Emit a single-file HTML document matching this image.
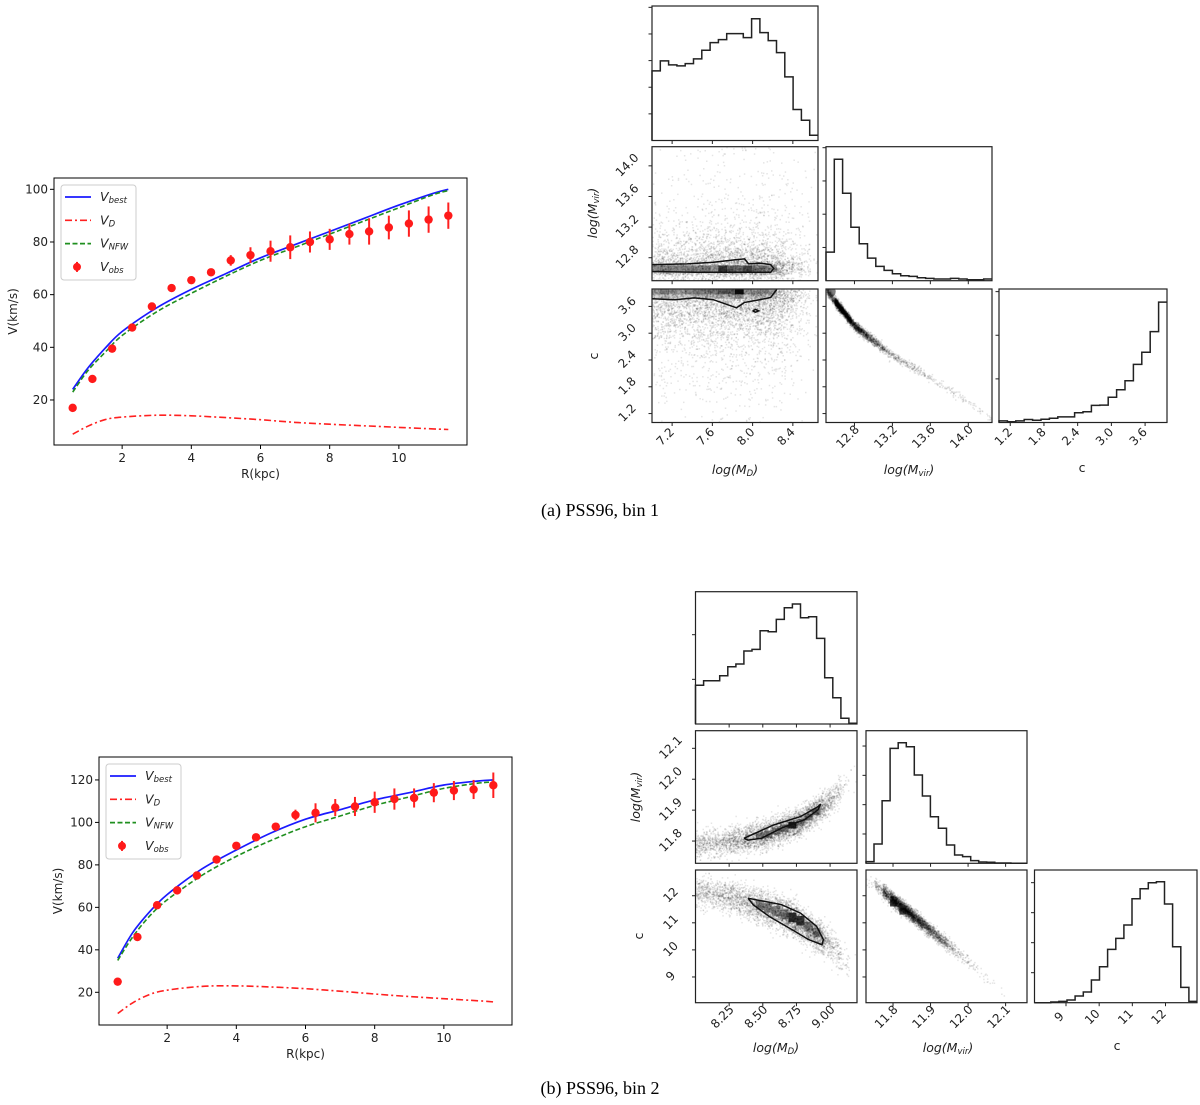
<!DOCTYPE html>
<html><head><meta charset="utf-8">
<style>
html,body{margin:0;padding:0;background:#fff;}
svg{display:block;font-family:"DejaVu Sans","Liberation Sans",sans-serif;}
.tk{font-size:12px;fill:#222;}
.cap{font-family:"Liberation Serif",serif;font-size:18px;fill:#000;}
</style></head>
<body>
<svg id="fig" width="1200" height="1105" viewBox="0 0 1200 1105" xmlns="http://www.w3.org/2000/svg">
<text class="cap" x="600" y="516" text-anchor="middle">(a) PSS96, bin 1</text>
<text class="cap" x="600" y="1094" text-anchor="middle">(b) PSS96, bin 2</text>
</svg>
<script>
// ---------- Rotation curve data (bin 1) ----------
const obsR = [0.57,1.14,1.71,2.29,2.86,3.43,4.0,4.57,5.14,5.71,6.29,6.86,7.43,8.0,8.57,9.14,9.71,10.29,10.86,11.43];
const obs1 = [17,28,39.5,47.5,55.5,62.5,65.5,68.5,73,75,76.5,78,80,81,83,84,85.5,87,88.5,90];
const err1 = [1,1,1,1,1.5,1,1,1,2,3,4,4.5,4,4,4,5,4.5,5,5,5];
const curveR = [0.57,1,1.5,2,3,4,5,6,7,8,9,10,11,11.43];
const best1 = [24,32,39.5,46,55,62,68,74,79,84,89,94,98.5,100];
const nfw1  = [23,31,38,44.5,53.5,60.5,67,73,78,83,88,93,98,99.5];
const disk1 = [7,10,12.5,13.5,14.2,14,13.3,12.5,11.5,10.8,10.2,9.6,9,8.8];
// ---------- Rotation curve data (bin 2) ----------
const obs2 = [25,46,61,68,75,82.5,89,93,98,103.5,104.5,107,107.5,109.5,111,111.5,114,115,115.5,117.5];
const err2 = [1,1,1,1,1,1,1,1,1,2.5,4.5,4,4.5,5,5,4.5,4.5,4.5,4.5,6];
const best2 = [36,48,58,66,78,87,95,101.5,106,110.6,114,117.6,119.5,120];
const nfw2  = [35,46,56,63.5,75,84,91.5,98,103,108,112,116,118.5,119];
const disk2 = [10,15,19,21,22.8,23,22.5,21.7,20.5,19.2,18,17,16,15.5];
const ticks1Y = [20,40,60,80,100];
const ticks2Y = [20,40,60,80,100,120];
const ticksX = [2,4,6,8,10];

// ---------- Corner data (bin 1) ----------
const histMD1   = [209,239,227,224,231,245,271,294,303,321,321,309,366,324,300,264,191,93,61,16];
const histMvir1 = [86,365,263,161,111,68,43,31,21,15,13,9,7,5,5,7,5,3,3,5];
const histC1    = [5,2,5,9,7,10,13,17,17,30,33,52,53,77,100,127,177,214,277,367];
const relMvir1 = [12.5,12.8,13.2,13.6,14.0,14.24];
const relC1    = [3.96,3.17,2.5,2.02,1.47,1.05];
const ticksMD1 = [7.2,7.6,8.0,8.4], ticksMv1 = [12.8,13.2,13.6,14.0], ticksC1 = [1.2,1.8,2.4,3.0,3.6];
const cont1a_x = [7.0,7.35,7.61,7.84,7.92,7.96,8.07,8.18,8.21,8.18,7.8,7.42,7.0];
const cont1a_y = [12.71,12.72,12.74,12.775,12.785,12.72,12.73,12.71,12.66,12.61,12.61,12.61,12.62];
const cont1b_x = [7.0,7.23,7.42,7.61,7.84,7.92,8.07,8.18,8.24];
const cont1b_y = [3.77,3.75,3.79,3.75,3.57,3.69,3.75,3.8,3.98];
const cells1a = [0.5,0.55,0.55,0.55,0.55,0.5,0.55,0.45,0.95,0.7,0.6,0.85,0.55,0.5,0.4];
const cells1b = [0.35,0.5,0.4,0.35,0.4,0.45,0.45,0.5,0.6,0.6,0.95,0.4,0.35,0.4,0.3];
// ---------- Corner data (bin 2) ----------
const histMD2   = [116,130,130,145,172,180,219,224,280,277,314,349,360,319,322,257,139,79,17,2];
const histMvir2 = [5,58,188,345,362,350,265,202,140,105,55,25,20,8,4,3,1,1,0,0];
const histC2    = [0,0,2,4,8,20,32,68,108,160,193,233,312,342,360,363,296,168,46,4];
const relMD2   = [8.0,8.25,8.5,8.75,9.0,9.15,9.2];
const relMvir2 = [11.79,11.80,11.82,11.86,11.93,12.0,12.03];
const relC2MD  = [12.2,12.0,11.6,11.1,10.2,9.3,9.0];
const relMvir2b = [11.74,12.12];
const relC2b    = [12.55,8.2];
const ticksMD2 = [8.25,8.5,8.75,9.0], ticksMv2 = [11.8,11.9,12.0,12.1], ticksC2 = [9,10,11,12];
const cont2a_x = [8.36,8.58,8.78,8.91,8.93,8.91,8.81,8.64,8.49,8.39,8.36];
const cont2a_y = [11.809,11.852,11.879,11.911,11.92,11.901,11.869,11.842,11.809,11.803,11.809];
const cont2b_x = [8.39,8.64,8.78,8.9,8.95,8.94,8.84,8.72,8.55,8.43,8.39];
const cont2b_y = [11.91,11.67,11.36,10.87,10.38,10.19,10.38,10.74,11.23,11.66,11.91];

const NS = "http://www.w3.org/2000/svg";
const svg = document.getElementById('fig');
function mk(tag, attrs, parent){const e=document.createElementNS(NS,tag);for(const k in attrs)e.setAttribute(k,attrs[k]);(parent||svg).appendChild(e);return e;}
function lin(d0,d1,r0,r1){return v=>r0+(v-d0)/(d1-d0)*(r1-r0);}
function interp(xs,ys,x){if(x<=xs[0])return ys[0];for(let i=1;i<xs.length;i++){if(x<=xs[i]){const t=(x-xs[i-1])/(xs[i]-xs[i-1]);return ys[i-1]+t*(ys[i]-ys[i-1]);}}return ys[ys.length-1];}
let seed=12345;function rnd(){seed|=0;seed=seed+0x6D2B79F5|0;let t=Math.imul(seed^seed>>>15,1|seed);t=t+Math.imul(t^t>>>7,61|t)^t;return((t^t>>>14)>>>0)/4294967296;}
function gauss(){let u=rnd()||1e-9,v=rnd();return Math.sqrt(-2*Math.log(u))*Math.cos(2*Math.PI*v);}
function sampleHist(h,lo,hi){const tot=h.reduce((a,b)=>a+b,0);let r=rnd()*tot,i=0;while(i<h.length-1&&r>h[i]){r-=h[i];i++;}const w=(hi-lo)/h.length;return lo+(i+rnd())*w;}
function splinePath(px,py){ // Catmull-Rom through pixel points
  let d='M'+px[0].toFixed(1)+' '+py[0].toFixed(1);
  for(let i=0;i<px.length-1;i++){
    const x0=px[Math.max(i-1,0)],y0=py[Math.max(i-1,0)],x1=px[i],y1=py[i],x2=px[i+1],y2=py[i+1],x3=px[Math.min(i+2,px.length-1)],y3=py[Math.min(i+2,px.length-1)];
    d+=` C${(x1+(x2-x0)/6).toFixed(1)} ${(y1+(y2-y0)/6).toFixed(1)} ${(x2-(x3-x1)/6).toFixed(1)} ${(y2-(y3-y1)/6).toFixed(1)} ${x2.toFixed(1)} ${y2.toFixed(1)}`;
  }
  return d;
}

// ---------- rotation curve chart ----------
function rotChart(name, box, ydom, yticks, obs, err, best, nfw, disk, leg){
  const g=mk('g',{});  
  const X=lin(0.03,11.97,box.l,box.r), Y=lin(ydom[0],ydom[1],box.b,box.t);
  const smooth=(xs,ys)=>splinePath(xs.map(X),ys.map(Y));
  let e;
  e=mk('path',{d:smooth(curveR,disk),stroke:'#ff2020',fill:'none','stroke-width':1.6,'stroke-dasharray':'7 3 2 3'},g);  
  e=mk('path',{d:smooth(curveR,best),stroke:'#1a1aff',fill:'none','stroke-width':1.7},g);  
  e=mk('path',{d:smooth(curveR,nfw),stroke:'#1f8f1f',fill:'none','stroke-width':1.6,'stroke-dasharray':'5 2.5'},g);  
  obsR.forEach((r,i)=>{
    const b=mk('line',{x1:X(r),x2:X(r),y1:Y(obs[i]-err[i]),y2:Y(obs[i]+err[i]),stroke:'#ff2020','stroke-width':2},g);
     
    const c=mk('circle',{cx:X(r),cy:Y(obs[i]),r:4.2,fill:'#ff1a1a'},g);
     
  });
  e=mk('rect',{x:box.l,y:box.t,width:box.r-box.l,height:box.b-box.t,fill:'none',stroke:'#000','stroke-width':1},g);  
  ticksX.forEach(v=>{mk('line',{x1:X(v),x2:X(v),y1:box.b,y2:box.b+4,stroke:'#000'},g);
    const t=mk('text',{x:X(v),y:box.b+17,'text-anchor':'middle',class:'tk'},g);t.textContent=v;});
  yticks.forEach(v=>{mk('line',{x1:box.l-4,x2:box.l,y1:Y(v),y2:Y(v),stroke:'#000'},g);
    const t=mk('text',{x:box.l-6,y:Y(v)+4,'text-anchor':'end',class:'tk'},g);t.textContent=v;});
  let t=mk('text',{x:(box.l+box.r)/2,y:box.b+33,'text-anchor':'middle',class:'tk'},g);t.textContent='R(kpc)';
  t=mk('text',{x:0,y:0,'text-anchor':'middle',class:'tk',transform:`translate(${box.l-37},${(box.t+box.b)/2}) rotate(-90)`},g);t.textContent='V(km/s)';
  const lg=mk('g',{},g);  
  mk('rect',{x:leg.x,y:leg.y,width:75,height:95,rx:3,fill:'#fff',stroke:'#ccc'},lg);
  const rows=[['best','#1a1aff',null],['D','#ff2020','7 3 2 3'],['NFW','#1f8f1f','5 2.5'],['obs','#ff1a1a','pt']];
  rows.forEach((rw,i)=>{const yy=leg.y+12+i*23.3;
    const en=mk('g',{},lg);  
    if(rw[2]==='pt'){mk('line',{x1:leg.x+16,x2:leg.x+16,y1:yy-5,y2:yy+5,stroke:rw[1],'stroke-width':2},en);mk('circle',{cx:leg.x+16,cy:yy,r:4,fill:rw[1]},en);}
    else{const a={x1:leg.x+4,x2:leg.x+30,y1:yy,y2:yy,stroke:rw[1],'stroke-width':1.7};if(rw[2])a['stroke-dasharray']=rw[2];mk('line',a,en);}
    const tx=mk('text',{x:leg.x+39,y:yy+4,'font-size':'12.5','font-style':'italic',fill:'#222'},en);
    tx.appendChild(document.createTextNode('V'));const s=mk('tspan',{'font-size':'8.5',dy:'2'},tx);s.textContent=rw[0];
  });
}
rotChart('rotation-curve-bin1',{l:54,r:467,t:178,b:445},[2.9,104.3],ticks1Y,obs1,err1,best1,nfw1,disk1,{x:61,y:185});
rotChart('rotation-curve-bin2',{l:99,r:512,t:757,b:1025},[4.6,130.8],ticks2Y,obs2,err2,best2,nfw2,disk2,{x:106,y:764});

// ---------- corner plot ----------
function label(g,x,y,parts,rot,name){
  const t=mk('text',{x:0,y:0,'text-anchor':'middle','font-size':'12.5',fill:'#222',transform:`translate(${x},${y})`+(rot?' rotate(-90)':'')},g);
   
  if(parts.length===1){t.textContent=parts[0];return;}
  t.setAttribute('font-style','italic');
  t.appendChild(document.createTextNode(parts[0]));const s=mk('tspan',{'font-size':'8.5',dy:'2'},t);s.textContent=parts[1];const s2=mk('tspan',{dy:'-2'},t);s2.textContent=')';
}
function corner(name,cols,rows,dom,ticks,decs,hists,hmax,hstep,scatters,contours,cellsFn,labels){
  const G=mk('g',{});  
  for(let r=0;r<3;r++)for(let c=0;c<=r;c++){
    const L=cols[c][0],R=cols[c][1],T=rows[r][0],B=rows[r][1];
    const g=mk('g',{},G);  
    const X=lin(dom[c][0],dom[c][1],L,R);
    if(r===c){
      const h=hists[r],Y=lin(0,hmax[r],B,T),w=(dom[c][1]-dom[c][0])/h.length;
      let d='M'+L+' '+B;h.forEach((v,i)=>{d+=' L'+X(dom[c][0]+i*w).toFixed(1)+' '+Y(v).toFixed(1)+' L'+X(dom[c][0]+(i+1)*w).toFixed(1)+' '+Y(v).toFixed(1);});
      const p=mk('path',{d,fill:'none',stroke:'#222','stroke-width':1.5},g);  
      for(let v=hstep[r];v<hmax[r];v+=hstep[r])mk('line',{x1:L-3.5,x2:L,y1:Y(v),y2:Y(v),stroke:'#222'},g);
    } else {
      const Y=lin(dom[r][0],dom[r][1],B,T);
      const cp=mk('clipPath',{id:name+'clip'+r+c},g);mk('rect',{x:L,y:T,width:R-L,height:B-T},cp);
      const pg=mk('g',{'clip-path':`url(#${name}clip${r}${c})`,fill:'#000','fill-opacity':0.1},g);
       
      const pts=scatters[r+''+c]();
      pts.forEach(p=>{mk('rect',{x:X(p[0]).toFixed(1),y:Y(p[1]).toFixed(1),width:1.5,height:1.5},pg);});
      const cg=mk('g',{'clip-path':`url(#${name}clip${r}${c})`},g);
      cellsFn(r+''+c,cg,X,Y);
      const ct=contours[r+''+c];
      if(ct){ct.forEach(cc=>{const pd=cc[0].map((x,i)=>(i?'L':'M')+X(x).toFixed(1)+' '+Y(cc[1][i]).toFixed(1)).join(' ');
        const cl=mk('path',{d:pd,fill:'none',stroke:'#111','stroke-width':1.5},cg);  });}
      ticks[r].forEach(v=>{mk('line',{x1:L-3.5,x2:L,y1:Y(v),y2:Y(v),stroke:'#222'},g);
        if(c===0){const t=mk('text',{x:0,y:0,'text-anchor':'middle',class:'tk','font-size':'11.5',transform:`translate(${L-22},${Y(v)+2}) rotate(-45)`},g);t.textContent=v.toFixed(decs[r]);}});
    }
    ticks[c].forEach(v=>{mk('line',{x1:X(v),x2:X(v),y1:B,y2:B+3.5,stroke:'#222'},g);
      if(r===2){const t=mk('text',{x:0,y:0,'text-anchor':'middle',class:'tk','font-size':'11.5',transform:`translate(${X(v)-4},${B+17}) rotate(-45)`},g);t.textContent=v.toFixed(decs[c]);}});
    const fr=mk('rect',{x:L,y:T,width:R-L,height:B-T,fill:'none',stroke:'#222','stroke-width':1.2},g);  
  }
  labels.forEach(l=>label(G,l[0],l[1],l[2],l[3],l[4]));
}

// bin 1 corner
const D1=[[7.0,8.65],[12.5,14.25],[1.0,3.99]];
corner('corner-plot-bin1',[[652,818],[826,992],[999,1167]],[[6,140.5],[146.7,280.7],[289,422.5]],D1,[ticksMD1,ticksMv1,ticksC1],[1,1,1],
 [histMD1,histMvir1,histC1],[404,403,407],[80,100,133],
 {'10':()=>{const a=[];for(let i=0;i<4000;i++)a.push([sampleHist(histMD1,7.0,8.65),sampleHist(histMvir1,12.5,14.25)]);return a;},
  '20':()=>{const a=[];for(let i=0;i<4000;i++)a.push([sampleHist(histMD1,7.0,8.65),sampleHist(histC1,1.0,3.99)]);return a;},
  '21':()=>{const a=[];for(let i=0;i<4000;i++){const m=sampleHist(histMvir1,12.5,14.25);a.push([m,interp(relMvir1,relC1,m)+gauss()*0.05]);}return a;}},
 {'10':[[cont1a_x,cont1a_y]],'20':[[cont1b_x,cont1b_y],[[8.0,8.03,8.06,8.03,8.0],[3.5,3.53,3.5,3.47,3.5]]]},
 (k,pg,X,Y)=>{const w=(8.65-7.0)/20;
   if(k==='10')cells1a.forEach((o,i)=>{mk('rect',{x:X(7.0+i*w),y:Y(12.70),width:X(7.0+(i+1)*w)-X(7.0+i*w)+0.3,height:Y(12.61)-Y(12.70),fill:'#000','fill-opacity':o*0.8},pg);});
   if(k==='20')cells1b.forEach((o,i)=>{mk('rect',{x:X(7.0+i*w),y:Y(3.99),width:X(7.0+(i+1)*w)-X(7.0+i*w)+0.3,height:Y(3.87)-Y(3.99),fill:'#000','fill-opacity':o},pg);mk('rect',{x:X(7.0+i*w),y:Y(3.87),width:X(7.0+(i+1)*w)-X(7.0+i*w)+0.3,height:Y(3.77)-Y(3.87),fill:'#000','fill-opacity':o*0.4},pg);});
   if(k==='21')mk('ellipse',{cx:X(12.56),cy:Y(3.93),rx:4,ry:5,fill:'#000','fill-opacity':0.5},pg);},
 [[735,474,['log(M','D'],false,'x-axis-title-logmd'],[909,474,['log(M','vir'],false,'x-axis-title-logmvir'],[1082,472,['c'],false,'x-axis-title-c'],
  [597,213,['log(M','vir'],true,'y-axis-title-logmvir'],[598,356,['c'],true,'y-axis-title-c']]);

// bin 2 corner
const D2=[[8.0,9.2],[11.728,12.157],[8.05,12.95]];
corner('corner-plot-bin2',[[695.5,857],[866,1027],[1034.5,1197]],[[591.7,724],[730.7,863.3],[870,1002.7]],D2,[ticksMD2,ticksMv2,ticksC2],[2,1,0],
 [histMD2,histMvir2,histC2],[397,398,398],[134,88,90],
 {'10':()=>{const a=[];for(let i=0;i<4000;i++){const m=sampleHist(histMD2,8.0,9.2);a.push([m,interp(relMD2,relMvir2,m)+gauss()*0.022]);}return a;},
  '20':()=>{const a=[];for(let i=0;i<4000;i++){const m=sampleHist(histMD2,8.0,9.2);a.push([m,interp(relMD2,relC2MD,m)+gauss()*0.3]);}return a;},
  '21':()=>{const a=[];for(let i=0;i<4000;i++){const m=sampleHist(histMvir2,11.728,12.157);a.push([m,interp(relMvir2b,relC2b,m)+gauss()*0.12]);}return a;}},
 {'10':[[cont2a_x,cont2a_y]],'20':[[cont2b_x,cont2b_y]]},
 (k,pg,X,Y)=>{
   if(k==='10'){for(let i=0;i<8;i++){const m=8.45+i*0.06;mk('rect',{x:X(m),y:Y(interp(relMD2,relMvir2,m)+0.012),width:X(m+0.06)-X(m),height:Y(11.8)-Y(11.822),fill:'#000','fill-opacity':i===4?0.85:0.4},pg);}}
   if(k==='20'){for(let i=0;i<8;i++){const m=8.45+i*0.06;mk('rect',{x:X(m),y:Y(interp(relMD2,relC2MD,m)+0.15),width:X(m+0.06)-X(m),height:Y(10)-Y(10.35),fill:'#000','fill-opacity':(i===4||i===5)?0.75:0.4},pg);}}
   if(k==='21'){mk('rect',{x:X(11.80)-3,y:Y(11.75)-3,width:7,height:7,fill:'#000','fill-opacity':0.7},pg);mk('rect',{x:X(11.825)-3,y:Y(11.45)-3,width:7,height:7,fill:'#000','fill-opacity':0.7},pg);}},
 [[776,1052,['log(M','D'],false,'x-axis-title-logmd'],[948,1052,['log(M','vir'],false,'x-axis-title-logmvir'],[1117,1050,['c'],false,'x-axis-title-c'],
  [640,797,['log(M','vir'],true,'y-axis-title-logmvir'],[643,936,['c'],true,'y-axis-title-c']]);
</script>
</body></html>
